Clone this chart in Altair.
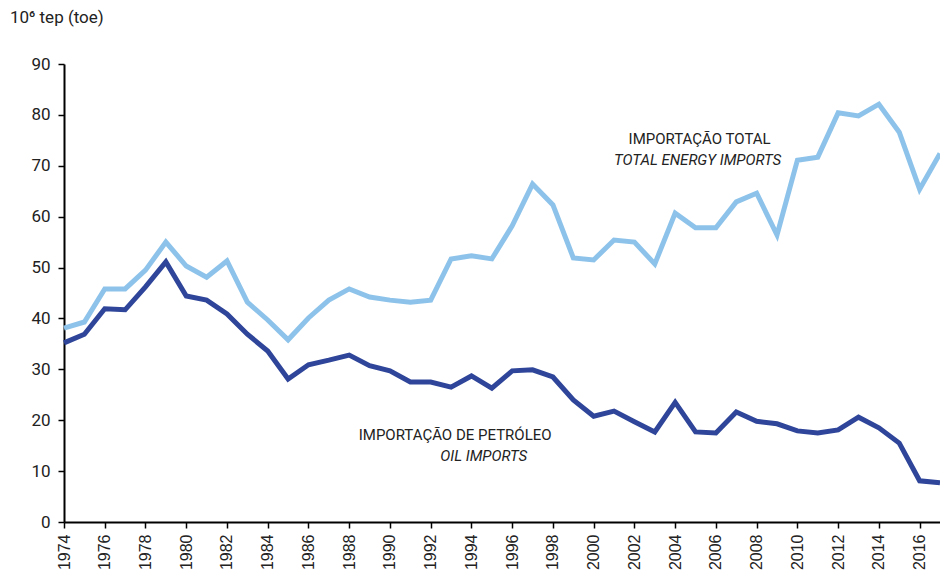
import altair as alt
import pandas as pd

years = list(range(1974, 2018))
total_imports = [38.1, 39.3, 45.8, 45.8, 49.5, 55.0, 50.3, 48.1, 51.3, 43.2,
                 39.7, 35.8, 40.1, 43.6, 45.8, 44.2, 43.6, 43.2, 43.6, 51.7,
                 52.3, 51.7, 58.2, 66.4, 62.3, 51.9, 51.5, 55.4, 55.0, 50.7,
                 60.7, 57.8, 57.8, 62.9, 64.6, 56.4, 71.1, 71.7, 80.4, 79.8,
                 82.1, 76.6, 65.4, 72.4]
oil_imports = [35.2, 36.9, 41.9, 41.7, 46.2, 51.1, 44.4, 43.6, 40.9, 36.9,
               33.6, 28.1, 30.9, 31.8, 32.8, 30.7, 29.7, 27.5, 27.5, 26.5,
               28.7, 26.3, 29.7, 29.9, 28.5, 24.0, 20.8, 21.8, 19.7, 17.7,
               23.5, 17.7, 17.5, 21.6, 19.8, 19.3, 17.9, 17.5, 18.1, 20.6,
               18.5, 15.5, 8.1, 7.7]
series_names = ["total", "oil"]
series_colors = ["#8DC3EA", "#2E4599"]

ann_text = ["IMPORTAÇÃO TOTAL", "TOTAL ENERGY IMPORTS", "IMPORTAÇÃO DE PETRÓLEO", "OIL IMPORTS"]
ann_year = [2005.2, 2005.1, 1993.2, 1994.6]
ann_value = [75.3, 71.1, 17.1, 13.0]
ann_style = ["normal", "italic", "normal", "italic"]

df = pd.DataFrame({
    "year": years * 2,
    "value": total_imports + oil_imports,
    "series": ["total"] * len(years) + ["oil"] * len(years),
})
ann = pd.DataFrame({"text": ann_text, "year": ann_year, "value": ann_value, "style": ann_style})

FONT = "Roboto, sans-serif"

x_scale = alt.Scale(domain=[1974, 2017], nice=False, zero=False)
y_scale = alt.Scale(domain=[0, 90], nice=False)

lines = alt.Chart(df).mark_line(strokeWidth=5, strokeJoin="miter").encode(
    x=alt.X("year:Q", scale=x_scale, title=None,
            axis=alt.Axis(values=years, labelExpr="datum.value % 2 == 0 ? datum.value : ''",
                          labelAngle=270, labelAlign="right", labelBaseline="middle",
                          labelFontSize=16, labelFont="Liberation Sans, Arial, sans-serif",
                          labelColor="#222", labelPadding=6, tickSize=6, tickColor="#000",
                          tickWidth=1.5, domainColor="#000", domainWidth=2, grid=False,
                          labelOverlap=False, labelBound=False, labelFlush=False)),
    y=alt.Y("value:Q", scale=y_scale, title=None,
            axis=alt.Axis(values=list(range(0, 100, 10)), labelFontSize=17, labelFont=FONT,
                          labelColor="#222", labelPadding=8, tickSize=6, tickColor="#000",
                          tickWidth=1.5, domainColor="#000", domainWidth=2, grid=False)),
    color=alt.Color("series:N", scale=alt.Scale(domain=series_names, range=series_colors), legend=None),
    order=alt.Order("year:Q"),
)

texts_normal = alt.Chart(ann).transform_filter("datum.style == 'normal'").mark_text(
    font=FONT, fontSize=15, color="#222", align="center", baseline="middle").encode(
    x=alt.X("year:Q", scale=x_scale), y=alt.Y("value:Q", scale=y_scale), text="text:N")
texts_italic = alt.Chart(ann).transform_filter("datum.style == 'italic'").mark_text(
    font=FONT, fontSize=15, fontStyle="italic", color="#222", align="center", baseline="middle").encode(
    x=alt.X("year:Q", scale=x_scale), y=alt.Y("value:Q", scale=y_scale), text="text:N")

chart = alt.layer(lines, texts_normal, texts_italic).properties(
    width=876, height=458,
    title=alt.TitleParams("10⁶ tep (toe)", anchor="start", frame="group", font=FONT, fontSize=17,
                          fontWeight="normal", color="#222", offset=28, dx=-54),
    autosize=alt.AutoSizeParams(type="none"),
    padding={"left": 56, "top": 56, "right": 0, "bottom": 52},
).configure_view(stroke=None)

chart.save("out.html", embed_options={"renderer": "svg", "actions": False})
